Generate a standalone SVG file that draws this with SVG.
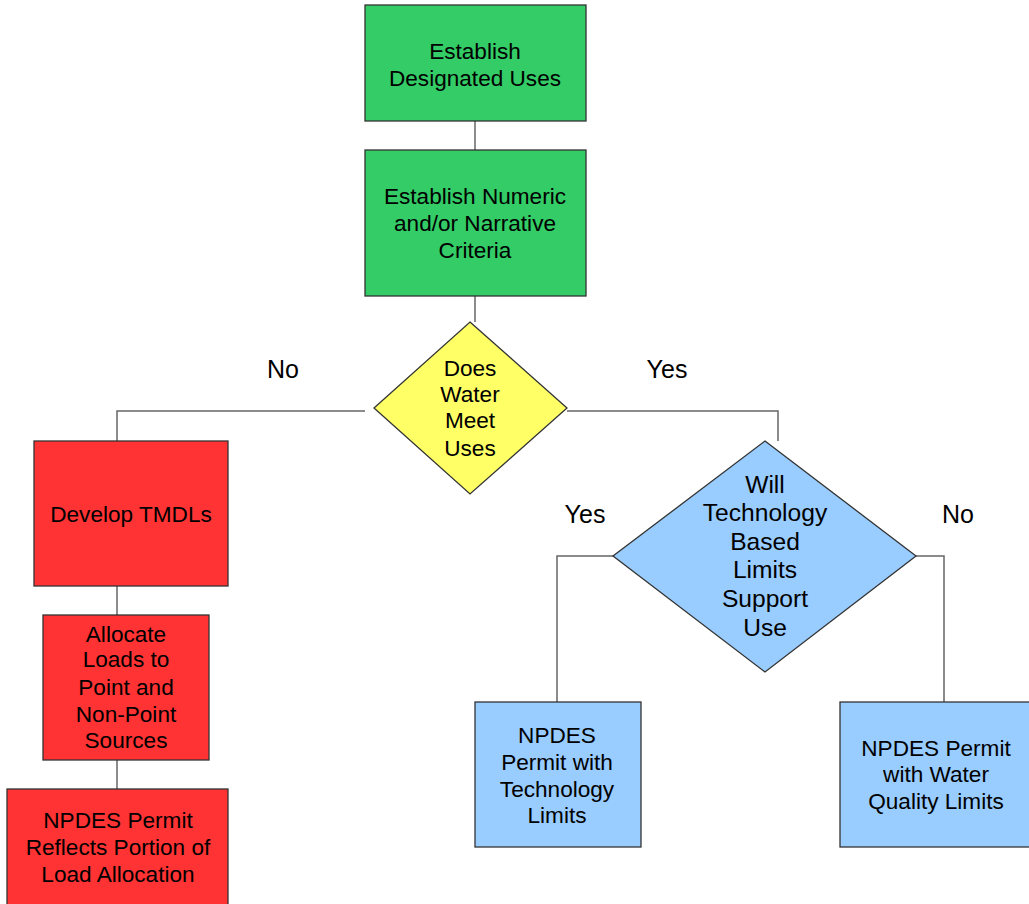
<svg xmlns="http://www.w3.org/2000/svg" width="1029" height="904" viewBox="0 0 1029 904">
<style>
.n{stroke:#333;stroke-width:1.3}
.g{fill:#33CC66}.r{fill:#FF3333}.y{fill:#FFFF66}.b{fill:#99CCFF}
text{font-family:"Liberation Sans",Arial,sans-serif;font-size:22.6px;fill:#000;text-anchor:middle}
.big{font-size:24.6px}
.lab{font-size:25px}
.c{fill:none;stroke:#666;stroke-width:1.5}
</style>
<rect width="1029" height="904" fill="#fff"/>
<g id="connectors">
<path class="c" d="M475 121V150"/>
<path class="c" d="M475 296V322"/>
<path class="c" d="M365 411H117V441"/>
<path class="c" d="M567 411H778V441"/>
<path class="c" d="M117 586V615"/>
<path class="c" d="M117 760V789"/>
<path class="c" d="M613 556H557V702"/>
<path class="c" d="M916 556H944V702"/>
</g>
<g id="labels">
<text class="lab" x="283" y="378">No</text>
<text class="lab" x="667" y="378">Yes</text>
<text class="lab" x="585" y="523">Yes</text>
<text class="lab" x="958" y="523">No</text>
</g>
<g id="n1">
<rect class="n g" x="365" y="5" width="221" height="116"/>
<text x="475" y="59">Establish</text>
<text x="475" y="86">Designated Uses</text>
</g>
<g id="n2">
<rect class="n g" x="365" y="150" width="221" height="146"/>
<text x="475" y="204">Establish Numeric</text>
<text x="475" y="231">and/or Narrative</text>
<text x="475" y="258">Criteria</text>
</g>
<g id="d1">
<polygon class="n y" points="470,322 567,408 470,494 374,408"/>
<text x="470" y="376">Does</text>
<text x="470" y="402">Water</text>
<text x="470" y="428">Meet</text>
<text x="470" y="456">Uses</text>
</g>
<g id="n3">
<rect class="n r" x="34" y="441" width="194" height="145"/>
<text x="131" y="522">Develop TMDLs</text>
</g>
<g id="n4">
<rect class="n r" x="43" y="615" width="166" height="145"/>
<text x="126" y="642">Allocate</text>
<text x="126" y="667">Loads to</text>
<text x="126" y="695">Point and</text>
<text x="126" y="722">Non-Point</text>
<text x="126" y="748">Sources</text>
</g>
<g id="n5">
<rect class="n r" x="7" y="789" width="221" height="130"/>
<text x="118" y="828">NPDES Permit</text>
<text x="118" y="855">Reflects Portion of</text>
<text x="118" y="882">Load Allocation</text>
</g>
<g id="d2">
<polygon class="n b" points="765,441 916,556 765,672 613,556"/>
<text class="big" x="765" y="493">Will</text>
<text class="big" x="765" y="521">Technology</text>
<text class="big" x="765" y="550">Based</text>
<text class="big" x="765" y="578">Limits</text>
<text class="big" x="765" y="607">Support</text>
<text class="big" x="765" y="636">Use</text>
</g>
<g id="n6">
<rect class="n b" x="475" y="702" width="166" height="145"/>
<text x="557" y="743">NPDES</text>
<text x="557" y="770">Permit with</text>
<text x="557" y="797">Technology</text>
<text x="557" y="823">Limits</text>
</g>
<g id="n7">
<rect class="n b" x="840" y="702" width="200" height="145"/>
<text x="936" y="756">NPDES Permit</text>
<text x="936" y="782">with Water</text>
<text x="936" y="809">Quality Limits</text>
</g>
</svg>
